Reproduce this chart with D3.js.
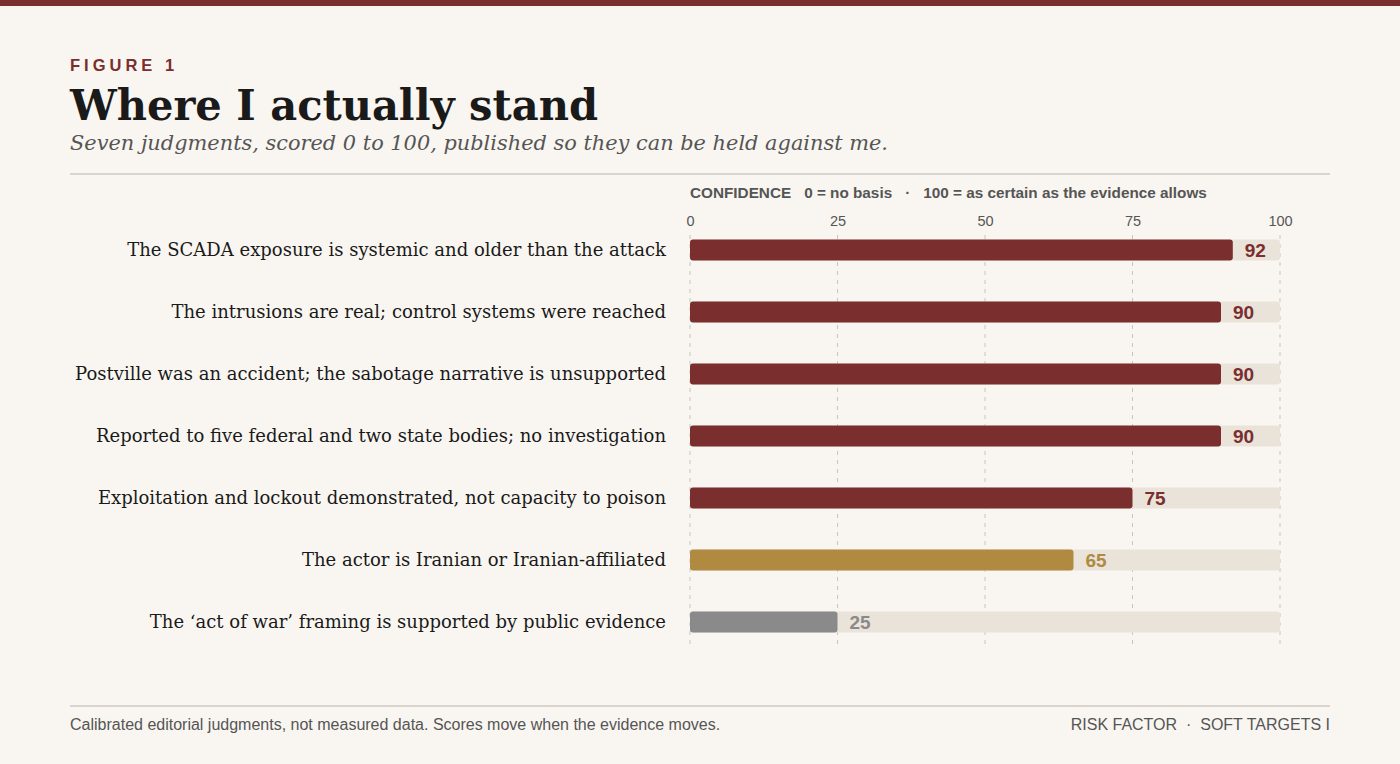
<!DOCTYPE html>
<html><head><meta charset="utf-8">
<script src="https://cdn.jsdelivr.net/npm/d3@7"></script>
<style>
html,body{margin:0;padding:0;background:#f9f6f1;}
svg{display:block;}
.serif{font-family:"DejaVu Serif",Georgia,serif;}
.sans{font-family:"Liberation Sans",Arial,sans-serif;}
</style></head>
<body>
<svg id="c" width="1400" height="764"></svg>
<script>
const categories = [
  "The SCADA exposure is systemic and older than the attack",
  "The intrusions are real; control systems were reached",
  "Postville was an accident; the sabotage narrative is unsupported",
  "Reported to five federal and two state bodies; no investigation",
  "Exploitation and lockout demonstrated, not capacity to poison",
  "The actor is Iranian or Iranian-affiliated",
  "The \u2018act of war\u2019 framing is supported by public evidence"
];
const scores = [92, 90, 90, 90, 75, 65, 25];
const tiers = ["high","high","high","high","high","mid","low"];
const tickValues = [0, 25, 50, 75, 100];
const tierColor = {high:"#7a2e2e", mid:"#b08a40", low:"#8a8a8a"};

const svg = d3.select("#c");
const W = 1400;

svg.append("rect").attr("x",0).attr("y",0).attr("width",W).attr("height",6).attr("fill","#7a2e2e");

svg.append("text").attr("class","sans").attr("x",70).attr("y",71)
  .attr("font-size",16.5).attr("font-weight","bold").attr("letter-spacing","4px")
  .attr("fill","#7a2e2e").text("FIGURE 1");
svg.append("text").attr("class","serif").attr("x",70).attr("y",120)
  .attr("font-size",42).attr("font-weight","bold").attr("fill","#1a1a1a")
  .attr("textLength",528).attr("lengthAdjust","spacingAndGlyphs")
  .text("Where I actually stand");
svg.append("text").attr("class","serif").attr("x",70).attr("y",150)
  .attr("font-size",20).attr("font-style","italic").attr("fill","#555")
  .attr("textLength",818).attr("lengthAdjust","spacingAndGlyphs")
  .text("Seven judgments, scored 0 to 100, published so they can be held against me.");
svg.append("line").attr("x1",70).attr("x2",1330).attr("y1",174).attr("y2",174)
  .attr("stroke","#cfcac4").attr("stroke-width",1.5);

const x = d3.scaleLinear().domain([0,100]).range([690,1280]);
const y = d3.scaleBand().domain(categories).range([219,653]).paddingInner(0.66).paddingOuter(0.33);

const hdr = svg.append("text").attr("class","sans").attr("x",690).attr("y",198)
  .attr("font-size",15.3).attr("font-weight","bold").attr("fill","#555");
hdr.append("tspan").text("CONFIDENCE");
hdr.append("tspan").attr("dx",13).text("0 = no basis");
hdr.append("tspan").attr("dx",13).text("\u00b7");
hdr.append("tspan").attr("dx",13).text("100 = as certain as the evidence allows");

// grid
svg.append("g").selectAll("line").data(tickValues).join("line")
  .attr("x1",d=>x(d)).attr("x2",d=>x(d)).attr("y1",235).attr("y2",649)
  .attr("stroke","#c9c4be").attr("stroke-width",1).attr("stroke-dasharray","4,5");

const axis = d3.axisTop(x).tickValues(tickValues).tickSize(0).tickPadding(0);
const ag = svg.append("g").attr("transform","translate(0,226)").call(axis);
ag.select(".domain").remove();
ag.selectAll("text").attr("class","sans").attr("font-size",14.5).attr("fill","#555")
  .attr("font-family","'Liberation Sans',Arial,sans-serif");

const rows = svg.append("g").selectAll("g").data(categories).join("g");
rows.append("rect").attr("x",x(0)).attr("y",d=>y(d)).attr("width",x(100)-x(0))
  .attr("height",y.bandwidth()).attr("rx",3).attr("fill","#e9e3da");
rows.append("rect").attr("x",x(0)).attr("y",d=>y(d))
  .attr("width",(d,i)=>x(scores[i])-x(0)).attr("height",y.bandwidth()).attr("rx",3)
  .attr("fill",(d,i)=>tierColor[tiers[i]]);
rows.append("text").attr("class","sans").attr("x",(d,i)=>x(scores[i])+12)
  .attr("y",d=>y(d)+y.bandwidth()/2).attr("dy","0.35em")
  .attr("font-size",19).attr("font-weight","bold")
  .attr("fill",(d,i)=>tierColor[tiers[i]]).text((d,i)=>scores[i]);
rows.append("text").attr("class","serif").attr("x",666)
  .attr("y",d=>y(d)+y.bandwidth()/2).attr("dy","0.35em")
  .attr("text-anchor","end").attr("font-size",18).attr("fill","#1a1a1a")
  .text(d=>d);

svg.append("line").attr("x1",70).attr("x2",1330).attr("y1",706).attr("y2",706)
  .attr("stroke","#cfcac4").attr("stroke-width",1.5);
svg.append("text").attr("class","sans").attr("x",70).attr("y",730)
  .attr("font-size",16).attr("fill","#555")
  .text("Calibrated editorial judgments, not measured data. Scores move when the evidence moves.");
svg.append("text").attr("class","sans").attr("x",1330).attr("y",730)
  .attr("font-size",16).attr("fill","#555").attr("text-anchor","end")
  .text("RISK FACTOR  \u00b7  SOFT TARGETS I").attr("xml:space","preserve").style("white-space","pre");
</script>
</body></html>
